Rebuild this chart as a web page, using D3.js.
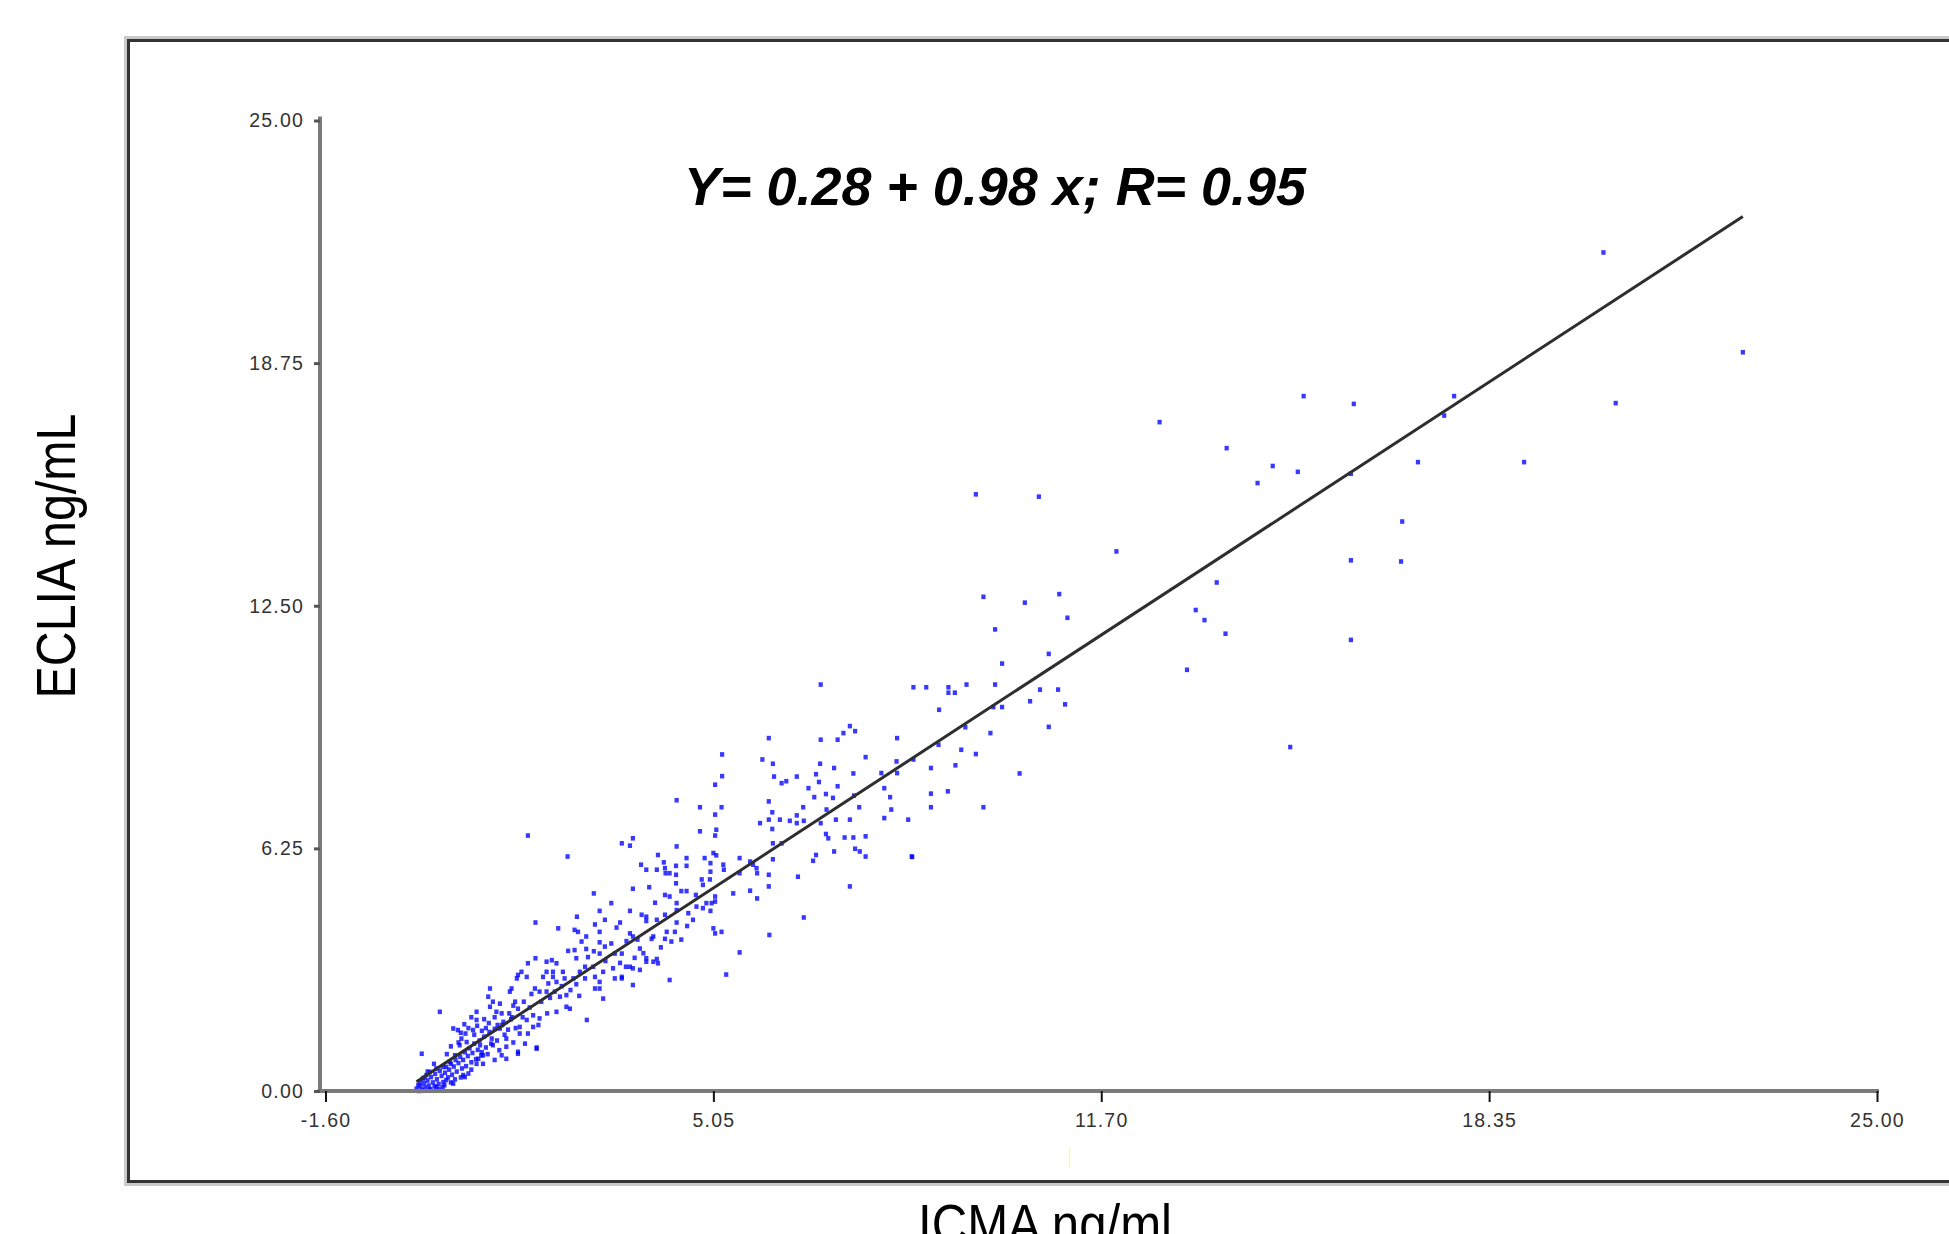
<!DOCTYPE html>
<html>
<head>
<meta charset="utf-8">
<script src="https://cdn.jsdelivr.net/npm/d3@7"></script>
<style>
    body { margin: 0; background: #fff; }
    .axis text { font-family: "Liberation Sans", Arial, sans-serif; font-size: 19.5px; fill: #333; letter-spacing: 1.2px; }
    .title { font-family: "Liberation Sans", Arial, sans-serif; fill: #000; }
</style>
</head>
<body>
<div id="chart"></div>
<script>

// axis ticks
const xTickValues = [-1.6, 5.05, 11.7, 18.35, 25];
const xTickLabels = ["-1.60", "5.05", "11.70", "18.35", "25.00"];
const yTickValues = [0, 6.25, 12.5, 18.75, 25];
const yTickLabels = ["0.00", "6.25", "12.50", "18.75", "25.00"];

// regression (from the picture)
const fitIntercept = 0.28;
const fitSlope = 0.98;
const equationText = "Y= 0.28 + 0.98 x; R= 0.95";

// [ICMA, ECLIA] pairs
const denseBlob = [
    [0.00,0.00],[0.03,0.12],[0.06,0.03],[0.09,0.20],[0.11,0.09],[0.15,0.27],[0.17,0.14],[0.20,0.05],
    [0.21,0.36],[0.24,0.22],[0.27,0.12],[0.28,0.44],[0.31,0.30],[0.34,0.18],[0.36,0.52],[0.39,0.39],
    [0.41,0.10],[0.45,0.47],[0.47,0.62],[0.50,0.35],[0.52,0.55],[0.55,0.70],[0.57,0.42],[0.60,0.63],
    [0.63,0.80],[0.65,0.50],[0.68,0.72],[0.71,0.88],[0.74,0.58],[0.76,0.80],[0.79,1.00],[0.81,0.64],
    [0.84,0.90],[0.87,1.10],[0.90,0.74],[0.92,0.98],[0.95,1.22],[0.98,0.82],[1.01,1.06],[1.04,1.30],
    [1.08,1.00],[1.12,1.40],[1.15,1.12],[1.18,0.95],[1.21,1.52],[1.24,1.22],[1.30,1.60],[1.34,1.30],
    [1.38,1.05],[1.43,1.70],[1.47,1.45],[1.53,1.58],[1.58,1.85],[1.62,1.25],[1.66,1.62],[1.78,1.90],
    [1.82,1.22],[0.15,0.50],[0.26,0.70],[0.48,0.95],[0.55,1.15],[0.68,1.25],[0.80,1.48],[0.35,0.05],
    [0.55,0.22],[0.72,0.35],[0.90,0.55],[1.10,0.70],[1.30,0.80],[0.72,1.50],[0.78,1.72],[0.85,1.62],
    [0.90,1.90],[0.95,1.45],[1.00,1.68],[1.08,1.55],[1.12,1.85],[1.15,1.62],[1.20,1.75],[1.30,1.90],
    [1.35,1.70],[1.42,2.00],[1.55,2.00],[1.60,1.90],[1.62,2.20],[1.80,2.30],[1.90,2.15],[1.93,2.50],
    [2.10,2.30],[2.20,2.00],[2.25,2.40],[2.45,2.70],[2.60,2.60],[2.70,2.75],[2.75,2.45],[0.10,0.35],
    [0.18,0.02],[0.30,0.10],[0.44,0.15],[0.62,0.30],[0.85,0.45]
];

const lowCluster = [
    [0.36,2.04],[0.05,0.96],[0.59,1.61],[0.67,1.57],[0.99,2.04],[0.99,1.83],[1.22,2.64],[1.39,2.25],
    [1.33,2.04],[1.59,2.64],[1.68,2.90],[1.19,2.43],[0.93,1.57],[0.73,1.35],[0.82,1.26],[0.70,1.18],
    [1.05,1.18],[1.07,0.92],[1.25,1.35],[1.27,1.18],[1.39,1.61],[1.45,1.78],[1.50,1.35],[1.50,1.14],
    [1.70,1.01],[1.42,0.92],[1.50,0.83],[1.10,0.92],[0.99,0.70],[1.02,0.83],[0.76,0.41],[0.59,0.19],
    [0.47,0.28],[1.70,2.12],[1.65,2.30],[1.56,2.56],[1.73,1.48],[1.85,1.83],[1.96,1.95],[2.07,1.87],
    [1.73,1.65],[1.96,1.65],[2.05,1.70],[1.87,1.48],[2.02,1.09],[0.62,0.92],[0.53,0.75],[0.42,0.62],
    [0.30,0.58],[0.19,0.49],[0.13,0.41],[0.07,0.32],[0.02,0.23],[-0.01,0.15],[-0.04,0.06],[0.42,0.23],
    [0.79,0.36],[1.22,2.17],[1.27,2.30],[1.70,2.99],[1.76,3.07],[1.87,3.29],[1.85,2.94],[2.19,3.33],
    [2.36,3.29],[2.19,3.07],[2.30,3.07],[2.47,3.07],[2.50,2.90],[2.65,2.90],[2.13,2.94],[2.22,2.77],
    [1.99,2.64],[2.07,2.56],[2.19,2.56],[2.33,2.56],[2.42,2.43],[2.53,2.47],[2.59,2.12],[2.53,2.17],
    [2.36,2.04],[2.88,1.83],[2.02,1.12],[1.70,0.96],[2.30,2.94],[2.36,2.81],[2.85,3.20],[2.99,3.20],
    [2.76,3.07],[2.85,2.90],[3.02,2.94],[3.16,3.07],[3.33,3.16],[3.48,2.90],[3.62,3.20],[3.10,2.81],
    [3.10,2.64],[3.02,2.64],[3.16,2.38],[3.36,2.90],[3.48,2.94],[3.67,2.73],[3.90,3.33],[4.02,3.33],
    [4.10,3.29],[3.67,3.16],[3.79,3.12],[4.30,2.86],[5.27,3.00],[2.90,3.45],[3.00,3.60],[3.20,3.35],
    [3.30,3.80],[3.45,3.30],[3.55,3.20],[3.75,3.90],[3.85,3.55],[4.15,3.70],[4.50,3.90],[4.60,4.25],
    [4.75,5.05],[4.05,4.85],[3.95,5.25]
];

const midCluster = [
    [1.87,6.58],[2.55,6.04],[4.42,7.49],[4.82,7.31],[5.19,7.31],[5.20,8.67],[5.20,8.11],[5.08,7.89],
    [5.08,7.12],[4.82,6.69],[5.10,6.73],[5.08,6.58],[3.67,6.51],[3.48,6.38],[3.62,6.32],[4.42,6.30],
    [4.10,6.08],[4.59,6.00],[4.90,6.00],[5.05,6.13],[5.10,6.07],[3.81,5.83],[4.20,5.89],[4.22,5.74],
    [4.08,5.70],[3.90,5.70],[4.41,5.80],[4.59,5.80],[5.00,5.87],[5.00,5.65],[5.22,5.83],[5.23,5.70],
    [5.50,6.00],[5.68,5.91],[5.73,5.83],[5.79,5.74],[5.80,5.61],[4.23,5.61],[4.30,5.61],[4.41,5.57],
    [4.85,5.45],[4.99,5.45],[4.41,5.35],[4.87,5.31],[5.50,5.61],[3.67,5.21],[4.50,5.15],[4.59,5.15],
    [3.00,5.09],[4.22,5.05],[4.30,5.01],[5.08,5.01],[5.08,4.88],[5.39,5.09],[5.68,5.16],[5.80,4.96],
    [4.93,4.84],[5.02,4.84],[4.76,4.75],[4.87,4.71],[4.42,4.84],[4.42,4.66],[4.62,4.58],[5.00,4.64],
    [3.30,4.84],[3.10,4.64],[3.62,4.64],[3.82,4.54],[3.90,4.49],[4.22,4.54],[2.71,4.49],[3.02,4.29],
    [3.19,4.41],[3.45,4.34],[3.90,4.38],[4.08,4.41],[4.42,4.34],[4.70,4.41],[6.60,4.47],[2.00,4.34],
    [2.39,4.19],[2.67,4.15],[2.73,4.10],[3.10,4.10],[3.39,4.21],[3.62,4.06],[3.67,3.98],[4.25,4.10],
    [4.39,4.10],[5.05,4.19],[5.19,4.10],[5.08,4.06],[6.01,4.02],[2.87,3.98],[2.79,3.85],[4.02,3.98],
    [3.99,3.92],[4.22,3.92],[4.33,3.85],[3.10,3.83],[3.19,3.72],[3.56,3.86],[2.67,3.63],[2.87,3.66],
    [3.10,3.54],[3.79,3.67],[2.56,3.61],[3.36,3.54],[3.48,3.54],[5.50,3.57],[2.00,3.42],[3.70,3.43],
    [3.90,3.42],[4.08,3.40],[2.28,3.37],[2.70,3.42],[7.39,5.27],[6.00,5.27],[8.46,6.03]
];

const upperCluster = [
    [9.68,12.73],[10.39,12.58],[10.98,12.80],[11.12,12.19],[9.88,11.89],[10.00,11.01],[10.80,11.26],[6.89,10.47],
    [8.48,10.40],[8.70,10.40],[9.08,10.40],[9.08,10.26],[9.19,10.26],[9.39,10.47],[9.88,10.47],[10.65,10.34],
    [10.96,10.34],[10.48,10.04],[11.08,9.96],[8.92,9.82],[9.85,9.89],[10.00,9.89],[10.80,9.38],[9.80,9.22],
    [9.37,9.37],[8.91,8.92],[9.30,8.79],[9.55,8.68],[9.20,8.39],[10.30,8.18],[9.07,7.72],[8.78,7.66],
    [8.78,7.31],[9.68,7.31],[8.78,8.32],[8.48,8.54],[8.20,9.09],[8.19,8.49],[8.20,8.19],[7.93,8.19],
    [7.39,9.40],[7.48,9.27],[7.28,9.22],[6.89,9.05],[7.18,9.05],[6.00,9.09],[5.89,8.54],[6.07,8.43],
    [6.88,8.43],[7.12,8.32],[7.66,8.60],[7.45,8.18],[6.09,8.10],[6.48,8.10],[6.81,8.16],[6.30,7.98],
    [6.22,7.93],[6.86,7.96],[7.18,7.85],[6.68,7.80],[6.98,7.65],[6.78,7.57],[7.10,7.55],[7.46,7.61],
    [7.98,7.80],[8.08,7.57],[6.00,7.46],[6.59,7.31],[7.55,7.31],[8.10,7.25],[6.99,7.25],[6.06,7.18],
    [6.48,7.10],[6.00,6.99],[6.19,6.99],[6.36,6.96],[6.60,6.96],[5.85,6.90],[6.48,6.90],[6.89,6.90],
    [7.15,6.99],[7.39,6.99],[7.98,7.03],[8.39,6.99],[6.06,6.75],[6.98,6.62],[7.02,6.51],[7.30,6.53],
    [7.45,6.53],[7.66,6.56],[6.07,6.38],[6.22,6.38],[7.48,6.24],[7.66,6.04],[7.56,6.17],[8.45,6.04],
    [7.12,6.17],[6.81,6.08],[6.76,5.93],[6.07,5.97],[6.00,5.57],[6.50,5.52]
];

const outliers = [
    [20.31,21.60],[22.70,19.03],[20.52,17.72],[18.95,16.20],[17.75,17.90],[17.58,17.40],[17.13,16.20],
    [16.03,17.70],[15.17,17.90],[15.98,15.90],[15.07,15.95],[14.64,16.10],[14.38,15.66],[13.85,16.56],
    [12.70,17.23],[16.86,14.67],[16.84,13.64],[15.98,13.67],[15.98,11.62],[14.94,8.86],[13.68,13.10],
    [13.32,12.39],[13.47,12.13],[13.83,11.78],[13.17,10.85],[11.96,13.90],[10.63,15.31],[9.55,15.37]
];


class ScatterVis {

    constructor(_parentElement, _data) {
        this.parentElement = _parentElement;
        this.data = _data;

        this.initVis();
    }

    initVis() {
        let vis = this;

        vis.width = 1949;
        vis.height = 1234;

        vis.svg = d3.select("#" + vis.parentElement).append("svg")
            .attr("width", vis.width)
            .attr("height", vis.height)
            .style("display", "block");

        vis.svg.append("rect")
            .attr("width", vis.width)
            .attr("height", vis.height)
            .attr("fill", "#fff");

        // outer frame (dark line with a light grey edge outside)
        let frame = vis.svg.append("g").attr("fill", "none");
        frame.append("path")
            .attr("d", "M1960,37.5H125.5V1184.5H1960")
            .attr("stroke", "#c9c9c9")
            .attr("stroke-width", 3);
        frame.append("path")
            .attr("d", "M1960,40.5H128.5V1181.5H1960")
            .attr("stroke", "#333")
            .attr("stroke-width", 3);

        // small yellow mark under the axis in the original
        vis.svg.append("line")
            .attr("x1", 1069.5).attr("x2", 1069.5)
            .attr("y1", 1147).attr("y2", 1168)
            .attr("stroke", "#fff7b0")
            .attr("stroke-width", 1.5);

        // scales
        vis.x = d3.scaleLinear()
            .domain([xTickValues[0], xTickValues[xTickValues.length - 1]])
            .range([325.5, 1877]);

        vis.y = d3.scaleLinear()
            .domain([yTickValues[0], yTickValues[yTickValues.length - 1]])
            .range([1091, 120.5]);

        vis.xAxis = d3.axisBottom(vis.x)
            .tickValues(xTickValues)
            .tickFormat((d, i) => xTickLabels[i])
            .tickSize(11)
            .tickSizeOuter(0)
            .tickPadding(11);

        vis.yAxis = d3.axisLeft(vis.y)
            .tickValues(yTickValues)
            .tickFormat((d, i) => yTickLabels[i])
            .tickSize(6)
            .tickSizeOuter(0)
            .tickPadding(10);

        vis.plot = vis.svg.append("g");
        vis.linePath = vis.svg.append("path");

        vis.svg.append("g")
            .attr("class", "x-axis axis")
            .attr("transform", "translate(0," + vis.y(0) + ")");

        vis.svg.append("g")
            .attr("class", "y-axis axis")
            .attr("transform", "translate(320,0)");

        // titles
        vis.svg.append("text")
            .attr("class", "title")
            .attr("transform", "translate(75,556) rotate(-90)")
            .attr("text-anchor", "middle")
            .attr("font-size", 56)
            .attr("textLength", 285)
            .attr("lengthAdjust", "spacingAndGlyphs")
            .text("ECLIA ng/mL");

        vis.svg.append("text")
            .attr("class", "title")
            .attr("x", 1045)
            .attr("y", 1243)
            .attr("text-anchor", "middle")
            .attr("font-size", 56)
            .attr("textLength", 254)
            .attr("lengthAdjust", "spacingAndGlyphs")
            .text("ICMA ng/ml");

        vis.svg.append("text")
            .attr("class", "title")
            .attr("x", 684)
            .attr("y", 205)
            .attr("font-size", 54)
            .attr("font-weight", "bold")
            .attr("font-style", "italic")
            .attr("textLength", 622)
            .attr("lengthAdjust", "spacingAndGlyphs")
            .text(equationText);

        vis.updateVis();
    }

    updateVis() {
        let vis = this;

        // points
        vis.plot.selectAll("rect")
            .data(vis.data)
            .enter()
            .append("rect")
            .attr("x", d => vis.x(d[0]) - 2.1)
            .attr("y", d => vis.y(d[1]) - 2.3)
            .attr("width", 4.2)
            .attr("height", 4.6)
            .attr("fill", "#0000ff")
            .attr("fill-opacity", 0.78);

        // fitted line over the data range
        let xExtent = d3.extent(vis.data, d => d[0]);
        vis.line = d3.line()
            .x(d => vis.x(d))
            .y(d => vis.y(fitIntercept + fitSlope * d));

        vis.linePath
            .datum(xExtent)
            .attr("fill", "none")
            .attr("stroke", "#2e2e2e")
            .attr("stroke-width", 3)
            .attr("d", vis.line);

        // axes
        let gx = vis.svg.select(".x-axis").call(vis.xAxis);
        let gy = vis.svg.select(".y-axis").call(vis.yAxis);

        gx.select(".domain")
            .attr("d", "M" + (vis.x.range()[0] - 8) + ",0H" + (vis.x.range()[1] + 2))
            .attr("stroke", "#7a7a7a")
            .attr("stroke-width", 4);
        gx.selectAll(".tick line")
            .attr("stroke", "#111")
            .attr("stroke-width", 2);

        gy.select(".domain")
            .attr("d", "M0," + (vis.y.range()[1] - 4) + "V" + (vis.y.range()[0] + 2))
            .attr("stroke", "#7a7a7a")
            .attr("stroke-width", 4);
        gy.selectAll(".tick line")
            .attr("stroke", "#555")
            .attr("stroke-width", 3);
    }
}

let allPoints = denseBlob.concat(lowCluster, midCluster, upperCluster, outliers);
let scatterVis = new ScatterVis("chart", allPoints);

</script>
</body>
</html>
